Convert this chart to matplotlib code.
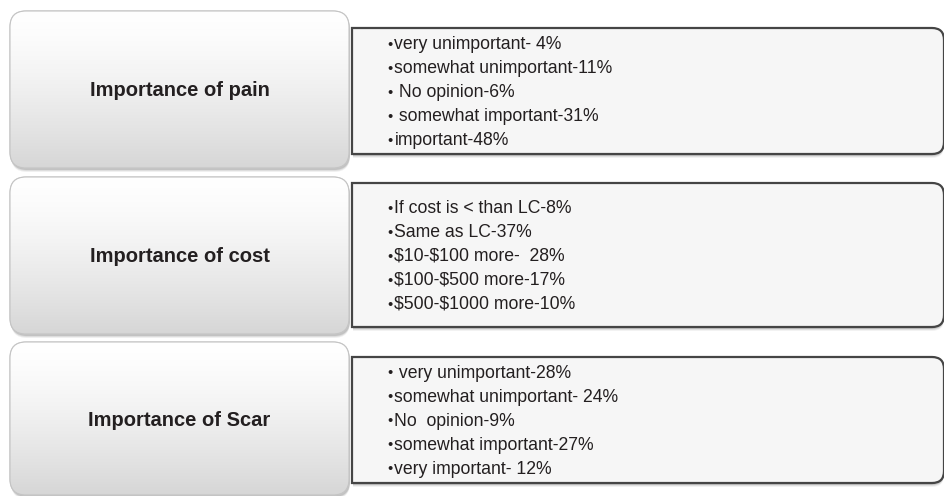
import numpy as np
import matplotlib
matplotlib.use("Agg")
import matplotlib.pyplot as plt
from matplotlib.patches import FancyBboxPatch, PathPatch
from matplotlib.path import Path

plt.rcParams['font.family'] = ['Liberation Sans', 'DejaVu Sans']

categories = ['Importance of pain', 'Importance of cost', 'Importance of Scar']

pain_items = ['very unimportant- 4%',
              'somewhat unimportant-11%',
              ' No opinion-6%',
              ' somewhat important-31%',
              'important-48%']
cost_items = ['If cost is < than LC-8%',
              'Same as LC-37%',
              '$10-$100 more-  28%',
              '$100-$500 more-17%',
              '$500-$1000 more-10%']
scar_items = [' very unimportant-28%',
              'somewhat unimportant- 24%',
              'No  opinion-9%',
              'somewhat important-27%',
              'very important- 12%']
items = [pain_items, cost_items, scar_items]

# layout in pixels (top, bottom) for left and right boxes
left_rows = [(11, 168), (177, 334), (342, 495)]
right_rows = [(28, 154), (183, 327), (357, 483)]

W, H = 945, 496
fig = plt.figure(figsize=(W / 100, H / 100), dpi=100)
ax = fig.add_axes([0, 0, 1, 1])
ax.set_xlim(0, W)
ax.set_ylim(H, 0)
ax.axis('off')


def right_box_path(x0, y0, x1, y1, r):
    verts = [(x0, y0), (x1 - r, y0), (x1, y0), (x1, y0 + r),
             (x1, y1 - r), (x1, y1), (x1 - r, y1), (x0, y1), (x0, y0)]
    codes = [Path.MOVETO, Path.LINETO, Path.CURVE3, Path.CURVE3,
             Path.LINETO, Path.CURVE3, Path.CURVE3, Path.LINETO, Path.CLOSEPOLY]
    return Path(verts, codes)


# vertical gradient for the left boxes
grad = np.linspace(0, 1, 256)
shade = 1.0 - 0.16 * grad ** 1.4
grad_img = np.dstack([shade, shade, shade]).reshape(256, 1, 3)

for i, cat in enumerate(categories):
    y0, y1 = left_rows[i]
    x0, x1 = 10, 349
    # shadow
    for k, a in [(4, 0.06), (3, 0.08), (2, 0.12)]:
        sh = FancyBboxPatch((x0 + 1, y0 + k), x1 - x0, y1 - y0,
                            boxstyle='round,pad=0,rounding_size=16',
                            fc='#000000', ec='none', alpha=a, zorder=1)
        ax.add_patch(sh)
    box = FancyBboxPatch((x0, y0), x1 - x0, y1 - y0,
                         boxstyle='round,pad=0,rounding_size=16',
                         fc='white', ec='#c8c8c8', lw=0.8, zorder=2)
    ax.add_patch(box)
    im = ax.imshow(grad_img, extent=(x0, x1, y1, y0), aspect='auto',
                   zorder=3, interpolation='bilinear')
    im.set_clip_path(box)
    edge = FancyBboxPatch((x0, y0), x1 - x0, y1 - y0,
                          boxstyle='round,pad=0,rounding_size=16',
                          fc='none', ec='#c4c4c4', lw=0.8, zorder=4)
    ax.add_patch(edge)
    ax.text((x0 + x1) / 2, (y0 + y1) / 2 + 1.5, cat, ha='center', va='center',
            fontsize=14.5, fontweight='bold', color='#231f20', zorder=5)

    # right box
    ry0, ry1 = right_rows[i]
    rx0, rx1 = 352, 944
    for k, a in [(4, 0.05), (3, 0.08), (2, 0.12)]:
        sp = PathPatch(right_box_path(rx0 + 1, ry0 + k, rx1, ry1 + k, 12),
                       fc='#000000', ec='none', alpha=a, zorder=1)
        ax.add_patch(sp)
    rp = PathPatch(right_box_path(rx0, ry0, rx1, ry1, 12),
                   fc='#f6f6f6', ec='#454545', lw=1.6, zorder=2)
    ax.add_patch(rp)

    lines = items[i]
    n = len(lines)
    mid = (ry0 + ry1) / 2 + 1.5
    for j, line in enumerate(lines):
        yy = mid + (j - (n - 1) / 2) * 24
        ax.text(390.5, yy, '\u2022', ha='center', va='center',
                fontsize=10.5, color='#231f20', zorder=5)
        ax.text(394.5, yy, line, ha='left', va='center', parse_math=False,
                fontsize=12.7, color='#231f20', zorder=5)

fig.savefig('out.png', dpi=100)
